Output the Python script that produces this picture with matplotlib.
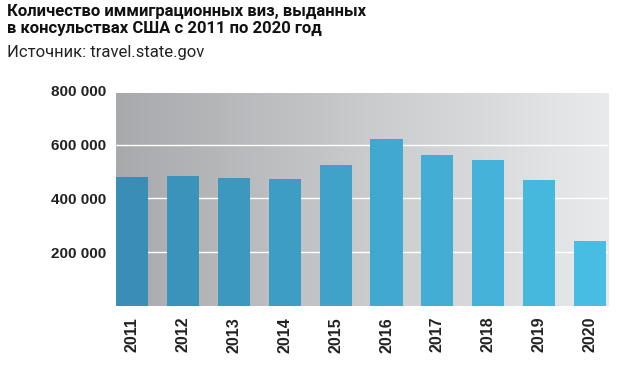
import matplotlib.pyplot as plt
import matplotlib.colors as mcolors
import numpy as np

# данные
years = ['2011', '2012', '2013', '2014', '2015', '2016', '2017', '2018', '2019', '2020']
visas = [480000, 483000, 477000, 473000, 525000, 620000, 563000, 541000, 469000, 242000]
yticks = [200000, 400000, 600000, 800000]
ytick_labels = ['200 000', '400 000', '600 000', '800 000']

title = 'Количество иммиграционных виз, выданных\nв консульствах США с 2011 по 2020 год'
source = 'Источник: travel.state.gov'

fig = plt.figure(figsize=(6.2, 3.9), dpi=100)
ax = fig.add_axes([0.187, 0.216, 0.794, 0.551])

x = np.arange(len(years))
w = 0.63
xmin, xmax = -w / 2, len(years) - 1 + w / 2 + 0.04
ymax = 790000

# фон с градиентом
bg = mcolors.LinearSegmentedColormap.from_list('bg', ['#a7a9ac', '#c9cacc', '#e9eaec'])
grad = np.linspace(0, 1, 256).reshape(1, -1)
ax.imshow(grad, cmap=bg, aspect='auto', extent=[xmin, xmax, 0, ymax], zorder=0)

for t in yticks[:-1]:
    ax.axhline(t, color='white', linewidth=1.0, zorder=1)

bar_cm = mcolors.LinearSegmentedColormap.from_list('bars', ['#3a8db5', '#47bde3'])
colors = [bar_cm(i / (len(years) - 1)) for i in range(len(years))]
ax.bar(x, visas, width=w, color=colors, zorder=2)

ax.set_xlim(xmin, xmax)
ax.set_ylim(0, ymax)
ax.set_xticks(x)
ax.set_xticklabels(years, rotation=90, fontsize=11.5, fontweight='bold',
                   family='Liberation Sans', color='#222222')
ax.set_yticks(yticks)
ax.set_yticklabels(ytick_labels, fontsize=11, fontweight='bold',
                   family='Liberation Sans', color='#222222')
ax.tick_params(length=0, pad=7)
ax.tick_params(axis='x', pad=8)
for s in ax.spines.values():
    s.set_visible(False)

fig.text(0.011, 0.99, title, fontsize=12, fontweight='bold', family='Roboto',
         va='top', ha='left', color='#111111', linespacing=1.2)
fig.text(0.011, 0.885, source, fontsize=12, family='Roboto',
         va='top', ha='left', color='#222222')

fig.savefig('out.png', dpi=100)
